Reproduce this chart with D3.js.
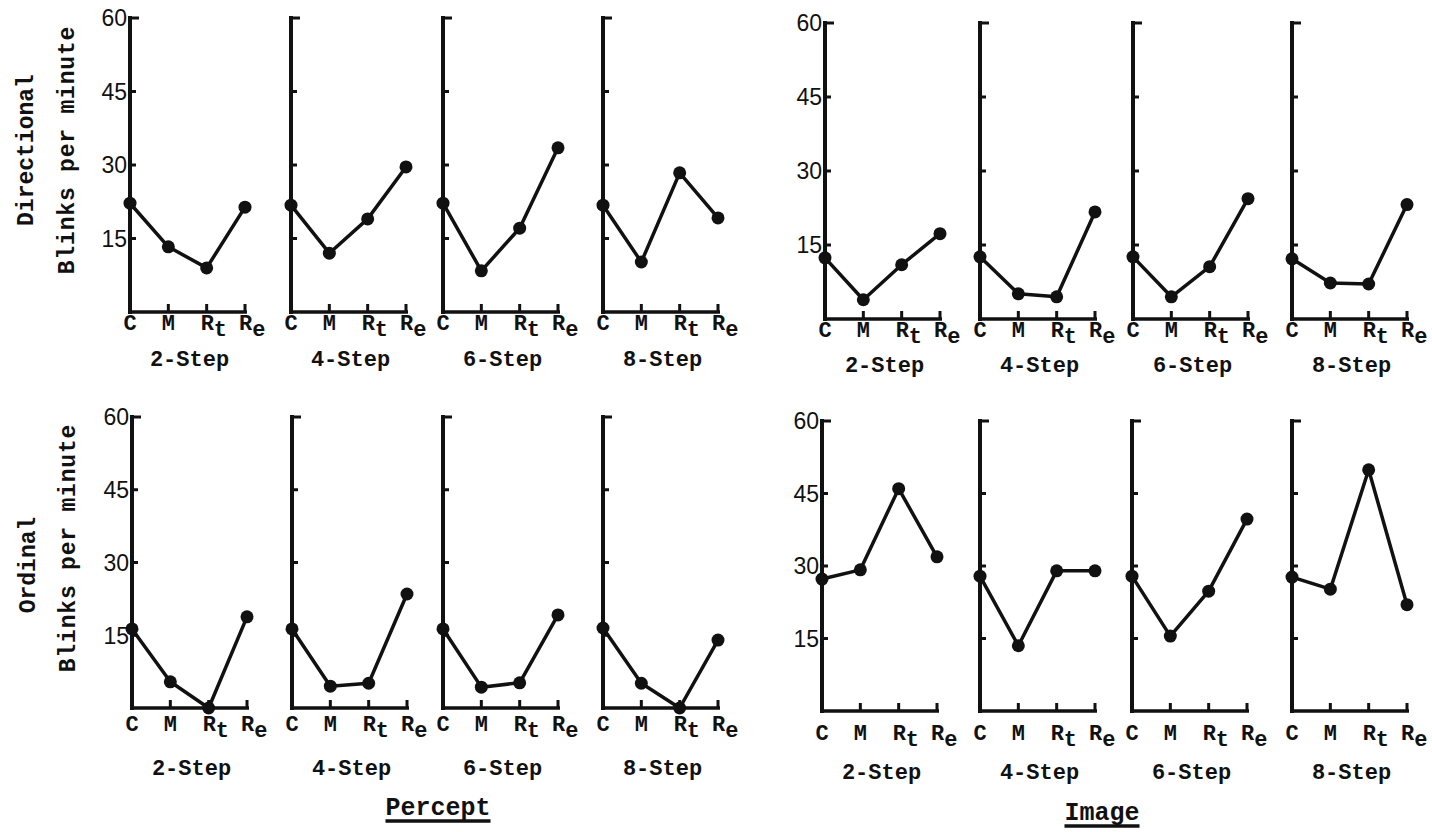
<!DOCTYPE html>
<html>
<head>
<meta charset="utf-8">
<script src="https://cdn.jsdelivr.net/npm/d3@7"></script>
<style>
  html, body { margin: 0; padding: 0; background: #fff; }
  svg { display: block; }
  text { fill: #111; }
</style>
</head>
<body>
<svg id="chart" width="1432" height="832"></svg>
<script>
// ---------------- DATA ----------------
const categories = ["C", "M", "Rt", "Re"];
const steps = ["2-Step", "4-Step", "6-Step", "8-Step"];
const yTicks = [15, 30, 45, 60];
const yTickLabels = ["15", "30", "45", "60"];
const conditions = ["Percept", "Image"];
const tasks = ["Directional", "Ordinal"];
const yTitle = "Blinks per minute";

// blinks per minute, per step (2,4,6,8) for C, M, Rt, Re
const perceptDirectional = [
  [22.2, 13.3, 9.0, 21.4],
  [21.8, 12.0, 19.0, 29.6],
  [22.2, 8.4, 17.1, 33.5],
  [21.8, 10.2, 28.4, 19.2]
];
const imageDirectional = [
  [12.4, 3.9, 11.0, 17.3],
  [12.6, 5.1, 4.5, 21.7],
  [12.6, 4.5, 10.6, 24.4],
  [12.2, 7.3, 7.1, 23.2]
];
const perceptOrdinal = [
  [16.3, 5.4, 0.0, 18.8],
  [16.3, 4.5, 5.1, 23.5],
  [16.3, 4.3, 5.2, 19.2],
  [16.5, 5.1, 0.0, 14.0]
];
const imageOrdinal = [
  [27.3, 29.2, 46.0, 31.9],
  [27.9, 13.5, 29.0, 29.0],
  [27.9, 15.5, 24.8, 39.7],
  [27.7, 25.2, 49.9, 22.0]
];

// ---------------- LAYOUT ----------------
const panelW = 115;
const groups = [
  { data: perceptDirectional, x0: [130, 291, 443, 603], top: 18, bottom: 312, catY: 330, stepY: 366, yLabels: true },
  { data: imageDirectional,   x0: [825, 980, 1133, 1292], top: 23, bottom: 319, catY: 337, stepY: 372, yLabels: true },
  { data: perceptOrdinal,     x0: [132, 292, 443, 603], top: 417, bottom: 708, catY: 731, stepY: 775, yLabels: true },
  { data: imageOrdinal,       x0: [822, 980, 1132, 1292], top: 421, bottom: 711, catY: 740, stepY: 779, yLabels: true }
];

const mono = "'Liberation Mono', 'DejaVu Sans Mono', monospace";
const hand = "'Liberation Sans', 'DejaVu Sans', sans-serif";

const svg = d3.select("#chart");

groups.forEach(g => {
  const y = d3.scaleLinear().domain([0, 60]).range([g.bottom, g.top]);
  g.data.forEach((vals, si) => {
    const x = d3.scalePoint().domain(categories).range([g.x0[si], g.x0[si] + panelW]);
    const p = svg.append("g");

    // y axis line
    p.append("line")
      .attr("x1", x("C")).attr("x2", x("C"))
      .attr("y1", y(60) - 2).attr("y2", y(0) + 2)
      .attr("stroke", "#111").attr("stroke-width", 4);
    // y ticks (inward, to the right)
    p.selectAll(".yt").data(yTicks).enter().append("line")
      .attr("x1", x("C") - 1).attr("x2", d => x("C") + (d === 60 ? 9 : 6))
      .attr("y1", d => y(d)).attr("y2", d => y(d))
      .attr("stroke", "#111").attr("stroke-width", 3);
    // x axis line
    p.append("line")
      .attr("x1", x("C")).attr("x2", x("Re") + 2)
      .attr("y1", y(0)).attr("y2", y(0))
      .attr("stroke", "#111").attr("stroke-width", 3.5);
    // x ticks (upward)
    p.selectAll(".xt").data(categories.slice(1)).enter().append("line")
      .attr("x1", d => x(d)).attr("x2", d => x(d))
      .attr("y1", y(0)).attr("y2", y(0) - 8)
      .attr("stroke", "#111").attr("stroke-width", 3);

    // y tick labels on first panel of the group
    if (si === 0 && g.yLabels) {
      p.selectAll(".yl").data(yTicks).enter().append("text")
        .attr("x", x("C") - 3)
        .attr("y", d => y(d))
        .attr("dy", "0.36em")
        .attr("text-anchor", "end")
        .attr("font-family", hand)
        .attr("font-size", 23)
        .text((d, i) => yTickLabels[i]);
    }

    // category labels
    categories.forEach(c => {
      const t = p.append("text")
        .attr("font-family", mono)
        .attr("font-size", 22)
        .attr("font-weight", "bold");
      if (c.length === 1) {
        t.attr("x", x(c)).attr("y", g.catY).attr("text-anchor", "middle").text(c);
      } else {
        t.attr("x", x(c) - 6).attr("y", g.catY);
        t.append("tspan").text(c[0]);
        t.append("tspan").attr("dy", 6).attr("font-size", 22).text(c[1]);
      }
    });

    // step label
    p.append("text")
      .attr("x", g.x0[si] + panelW / 2 + 2)
      .attr("y", g.stepY)
      .attr("text-anchor", "middle")
      .attr("font-family", mono)
      .attr("font-size", 22)
      .attr("font-weight", "bold")
      .text(steps[si]);

    // line
    const line = d3.line().x((d, i) => x(categories[i])).y(d => y(d));
    p.append("path")
      .attr("d", line(vals))
      .attr("fill", "none")
      .attr("stroke", "#111")
      .attr("stroke-width", 3.5)
      .attr("stroke-linejoin", "round");
    // points
    p.selectAll("circle").data(vals).enter().append("circle")
      .attr("cx", (d, i) => x(categories[i]))
      .attr("cy", d => y(d))
      .attr("r", 6.5)
      .attr("fill", "#111");
  });
});

// Row titles (rotated)
const rowTitles = [
  { task: tasks[0], cx: 25, cy: 150, bx: 66, by: 150 },
  { task: tasks[1], cx: 27, cy: 565, bx: 67, by: 548 }
];
rowTitles.forEach(r => {
  svg.append("text")
    .attr("transform", `translate(${r.cx},${r.cy}) rotate(-90)`)
    .attr("text-anchor", "middle")
    .attr("dy", "0.35em")
    .attr("font-family", mono)
    .attr("font-size", 23)
    .attr("font-weight", "bold")
    .text(r.task);
  svg.append("text")
    .attr("transform", `translate(${r.bx},${r.by}) rotate(-90)`)
    .attr("text-anchor", "middle")
    .attr("dy", "0.35em")
    .attr("font-family", mono)
    .attr("font-size", 23)
    .attr("font-weight", "bold")
    .attr("letter-spacing", 0.8)
    .text(yTitle);
});

// Condition labels (underlined)
const condPos = [{ x: 438, y: 815 }, { x: 1102, y: 820 }];
conditions.forEach((c, i) => {
  const t = svg.append("text")
    .attr("x", condPos[i].x).attr("y", condPos[i].y)
    .attr("text-anchor", "middle")
    .attr("font-family", mono)
    .attr("font-size", 25)
    .attr("font-weight", "bold")
    .text(c);
  const w = t.node().getComputedTextLength();
  svg.append("line")
    .attr("x1", condPos[i].x - w / 2).attr("x2", condPos[i].x + w / 2)
    .attr("y1", condPos[i].y + 6).attr("y2", condPos[i].y + 6)
    .attr("stroke", "#111").attr("stroke-width", 3.5);
});
</script>
</body>
</html>
